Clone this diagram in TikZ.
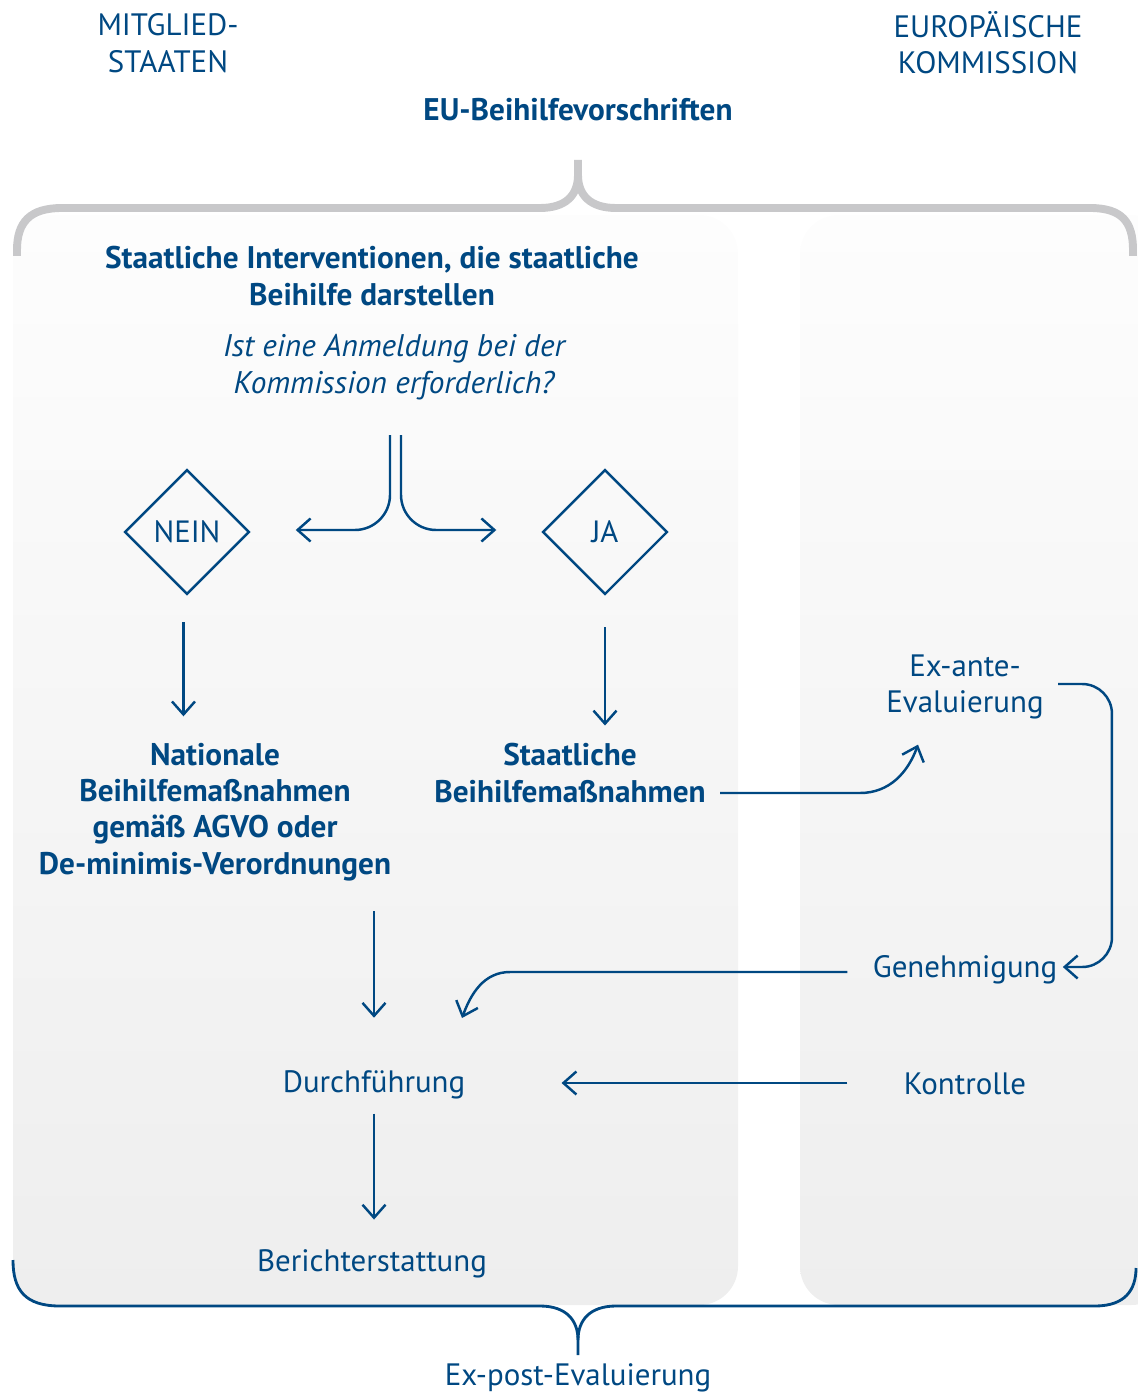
\documentclass[tikz,border=0pt]{standalone}
\usepackage{fontspec}
\setmainfont{PT Sans}
\usetikzlibrary{arrows.meta, positioning, calc, shapes.geometric}
\definecolor{EUBlue}{RGB}{0, 72, 130}
\definecolor{BraceGrey}{RGB}{200, 200, 202}
\definecolor{PanelTop}{RGB}{253, 253, 253}
\definecolor{PanelBottom}{RGB}{238, 238, 238}

\begin{document}
\begin{tikzpicture}[x=0.02cm, y=-0.02cm,
    txt/.style={text=EUBlue, align=center, inner sep=0pt, font=\fontsize{17.6}{20.7}\selectfont},
    bold/.style={txt, font=\bfseries\fontsize{17.8}{20.7}\selectfont},
    choice/.style={draw=EUBlue, line width=1.4pt, diamond, aspect=1, minimum width=2.5cm,
        minimum height=2.5cm, inner sep=0pt, text=EUBlue, font=\fontsize{17.5}{20}\selectfont},
    arr/.style={draw=EUBlue, line width=1.4pt, -{Straight Barb[length=2.6mm, width=4.6mm]}},
    panel/.style={top color=PanelTop, bottom color=PanelBottom, rounded corners=22pt}]
    \useasboundingbox (0,0) rectangle (1137,1395);

    % panels
    \shade[panel] (13,215) rectangle (738,1305);
    \shade[panel] (800,215) rectangle (1170,1305);

    % top brace
    \draw[BraceGrey, line width=4.5pt] (17,256) -- (17,250) .. controls (17,222) and (30,208) .. (62,208)
        -- (540,208) .. controls (566,208) and (578,195) .. (578,175) -- (578,160);
    \draw[BraceGrey, line width=4.5pt] (578,175) .. controls (578,195) and (590,208) .. (616,208)
        -- (1090,208) .. controls (1122,208) and (1133,222) .. (1133,250) -- (1133,256);

    % bottom brace
    \draw[EUBlue, line width=1.6pt] (13,1260) .. controls (13,1290) and (25,1306) .. (60,1306)
        -- (540,1306) .. controls (566,1306) and (578,1320) .. (578,1340) -- (578,1355);
    \draw[EUBlue, line width=1.6pt] (578,1340) .. controls (578,1320) and (590,1306) .. (616,1306)
        -- (1095,1306) .. controls (1125,1306) and (1136,1290) .. (1136,1268);

    % texts
    \node[txt] (ms) at (168,43) {MITGLIED-\\STAATEN};
    \node[txt] (ek) at (988,43) {EUROPÄISCHE\\KOMMISSION};
    \node[bold] (vorschr) at (578,110) {EU-Beihilfevorschriften};
    \node[bold] (interv) at (372,276) {Staatliche Interventionen, die staatliche\\Beihilfe darstellen};
    \node[txt, font=\itshape\fontsize{17.8}{20.7}\selectfont] (frage) at (394,367)
        {Ist eine Anmeldung bei der\\Kommission erforderlich?};
    \node[choice] (nein) at (187,532) {NEIN};
    \node[choice] (ja) at (605,532) {JA};
    \node[bold] (nat) at (215,812) {Nationale\\Beihilfemaßnahmen\\gemäß AGVO oder\\De-minimis-Verordnungen};
    \node[bold] (sbm) at (570,773) {Staatliche\\Beihilfemaßnahmen};
    \node[txt] (exante) at (965,687) {Ex-ante-\\Evaluierung};
    \node[txt] (gen) at (965,970) {Genehmigung};
    \node[txt] (kon) at (965,1084) {Kontrolle};
    \node[txt] (durch) at (374,1085) {Durchführung};
    \node[txt] (bericht) at (372,1264) {Berichterstattung};
    \node[txt] (expost) at (578,1378) {Ex-post-Evaluierung};

    % split under the question
    \coordinate (splitL) at (390,435);
    \coordinate (splitR) at (401,435);
    \draw[arr, rounded corners=20pt] (splitL) |- ($(nein.east)+(45,-2)$);
    \draw[arr, rounded corners=20pt] (splitR) |- ($(ja.west)+(-45,-2)$);

    % flow
    \draw[arr, shorten <=15pt, shorten >=15pt] ([xshift=-2pt]nein.south) -- ([xshift=-2pt]nein.south |- nat.north);
    \draw[arr, shorten <=18pt, shorten >=10pt] (ja.south) -- (ja.south |- sbm.north);
    \draw[arr, shorten <=17pt, shorten >=30pt] (durch |- nat.south) -- (durch.north);
    \draw[arr, shorten <=8pt, shorten >=17pt] (durch.south) -- (durch.south |- bericht.north);
    \draw[arr] ($(sbm.east)+(14,20)$) -- ++(140,0) to[out=0, in=-110] ($(exante.south)+(-47,25)$);
    \draw[arr, rounded corners=17pt, shorten <=8pt, shorten >=3pt] ($(exante.east)+(0,-3)$) -- ++(68,0) |- ($(gen.east)+(0,-3)$);
    \draw[arr] ($(gen.west)+(-25,2)$) -- ($(durch)+(136,-113)$) to[out=180, in=70] ($(durch)+(88,-67)$);
    \draw[arr] ($(gen.west |- kon)+(-25,-1)$) -- ($(durch.east)+(96,-2)$);
\end{tikzpicture}
\end{document}
